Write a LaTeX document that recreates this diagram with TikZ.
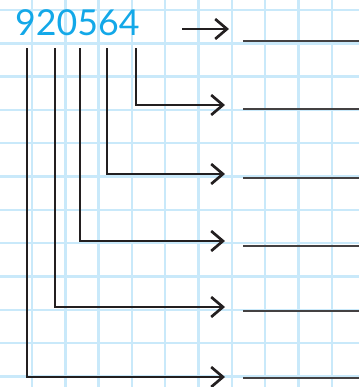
\documentclass[tikz,border=0pt]{standalone}
\usepackage{fontspec}
\newfontfamily\digitfont{Lato}
\usetikzlibrary{arrows.meta}
\definecolor{gBlue}{HTML}{C9E9FA}
\definecolor{dCyan}{HTML}{13A8E8}
\definecolor{lInk}{HTML}{231F20}

\begin{document}
\begin{tikzpicture}[x=0.03cm, y=-0.03cm,
      gridrule/.style={gBlue, line width=2pt},
      link/.style={lInk, line width=2.3pt, -{Straight Barb[length=10pt, width=17pt]}},
      blank/.style={lInk!85, line width=1.4pt}]
    \useasboundingbox (0,0) rectangle (359,387);
    \foreach \i in {0,...,9} \draw[gridrule] ({32+33.33*\i},0) -- ++(0,387);
    \foreach \j in {0,...,11} \draw[gridrule] (0,{10+33.33*\j}) -- ++(359,0);
    \node[anchor=base west, inner sep=0, text=dCyan,
      font=\digitfont\fontsize{30.5}{31}\selectfont] (num) at (15,35) {920564};
    % units digit: plain arrow
    \coordinate (s0) at (182,29);
    \coordinate (t0) at (229,29);
    \draw[link] (s0) -- (t0);
    % row / column / arrow y
    \foreach \r/\x/\ya in {1/136/105, 2/107/174, 3/80/241,
        4/55/307, 5/27/377} {
      \coordinate (s\r) at (\x,48);
      \coordinate (t\r) at (225,\ya);
      \draw[link] (s\r) |- (t\r);
    }
    % answer blanks
    \foreach \r/\yb in {0/41, 1/109, 2/178, 3/246, 4/311, 5/378} {
      \coordinate (a\r) at (243,\yb);
      \coordinate (b\r) at (359,\yb);
      \draw[blank] (a\r) -- (b\r);
    }
\end{tikzpicture}
\end{document}
